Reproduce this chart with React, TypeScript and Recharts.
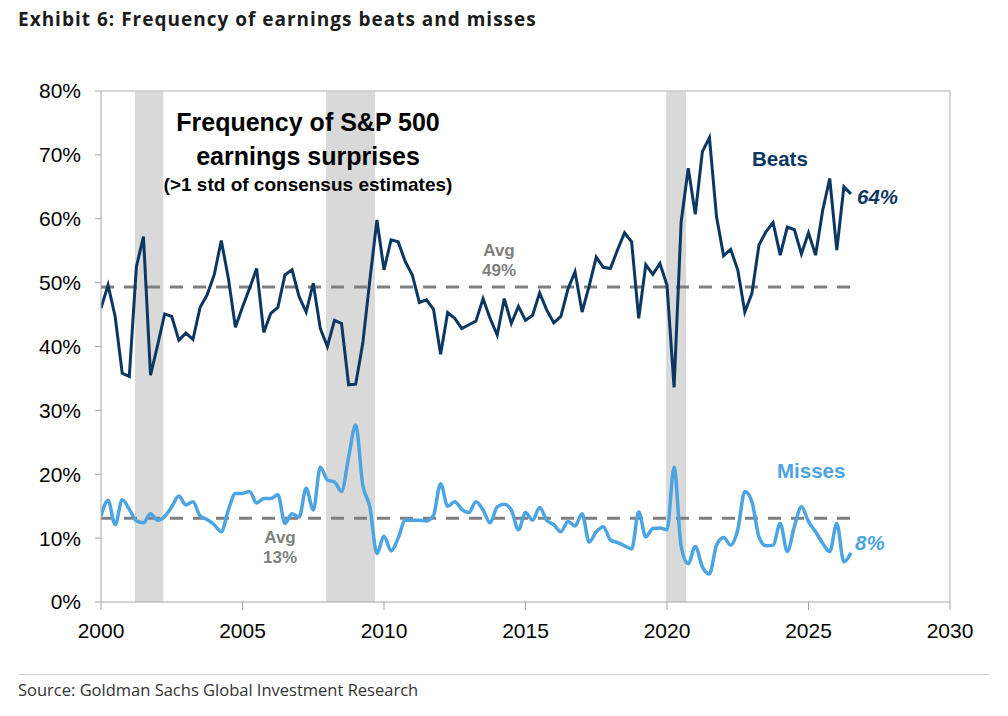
import React from 'react';
import { LineChart, Line, XAxis, YAxis, ReferenceArea, ReferenceLine } from 'recharts';

const startYear = 2000;

// quarterly share of S&P 500 companies beating / missing (>1 std of consensus), %
const beats = [
  46.0, 49.6, 44.7, 35.8, 35.3, 52.5, 57.2, 35.5, 40.2, 45.1,
  44.7, 41.0, 42.1, 41.1, 46.1, 48.1, 51.2, 56.6, 50.7, 43.0,
  46.2, 49.1, 52.2, 42.2, 45.2, 46.1, 51.2, 52.0, 47.8, 45.4,
  49.9, 42.8, 40.0, 44.1, 43.6, 34.0, 34.1, 40.5, 50.4, 59.8,
  52.0, 56.7, 56.4, 53.3, 51.2, 46.9, 47.3, 45.8, 38.8, 45.3,
  44.4, 42.8, 43.4, 44.0, 47.5, 44.4, 41.8, 47.5, 43.6, 46.3,
  44.1, 44.9, 48.4, 45.7, 43.7, 44.7, 49.0, 51.7, 45.4, 49.5,
  54.0, 52.4, 52.2, 55.1, 57.8, 56.4, 44.4, 52.8, 51.3, 53.0,
  49.6, 33.6, 59.5, 67.9, 60.7, 70.5, 72.7, 60.3, 54.2, 55.2,
  52.0, 45.4, 48.3, 55.9, 58.0, 59.4, 54.3, 58.7, 58.3, 54.5,
  57.8, 54.3, 61.3, 66.3, 55.1, 65.0, 63.9,
];

const misses = [
  13.5, 15.9, 12.1, 16.0, 14.5, 12.7, 12.4, 13.8, 12.8, 13.4,
  14.9, 16.6, 15.2, 15.7, 13.5, 12.9, 12.1, 11.0, 14.4, 17.0,
  17.0, 17.3, 15.5, 16.2, 16.2, 16.8, 12.3, 13.8, 13.3, 17.8,
  14.4, 21.1, 19.1, 18.8, 17.3, 22.7, 27.7, 18.3, 14.9, 7.6,
  10.3, 8.0, 10.0, 12.8, 12.8, 12.8, 12.7, 13.6, 18.5, 15.0,
  15.7, 14.5, 14.0, 15.7, 14.4, 12.4, 14.9, 15.3, 14.4, 11.3,
  14.0, 12.8, 14.8, 12.8, 12.1, 11.0, 12.6, 11.9, 13.8, 9.4,
  11.0, 11.8, 9.7, 9.3, 8.8, 8.3, 14.1, 10.2, 11.5, 11.6,
  11.3, 21.1, 8.7, 6.0, 8.7, 5.5, 4.4, 8.9, 10.1, 8.9,
  11.3, 17.3, 15.7, 10.2, 8.8, 8.9, 12.3, 7.9, 11.8, 14.9,
  12.6, 11.0, 9.2, 7.9, 12.3, 6.3, 7.7,
];

const recessions: Array<[number, number]> = [
  [2001.2, 2002.2],
  [2007.95, 2009.68],
  [2019.97, 2020.67],
];

const xTicks = [2000, 2005, 2010, 2015, 2020, 2025, 2030];
const yTicks = [0, 10, 20, 30, 40, 50, 60, 70, 80];

const beatsAvg = 49.3;
const missesAvg = 13.1;
const lastYear = startYear + (beats.length - 1) / 4;

const data = beats.map((b, i) => ({ year: startYear + i / 4, beats: b, misses: misses[i] }));

const NAVY = '#0c3763';
const SKY = '#4da4e2';
const GREY = '#7f7f7f';
const ARIAL = '"Liberation Sans", Arial, sans-serif';
const HUMANIST = '"Open Sans", "Noto Sans", sans-serif';

const abs = (left: number, top: number, extra: React.CSSProperties = {}): React.CSSProperties => ({
  position: 'absolute',
  left,
  top,
  whiteSpace: 'nowrap',
  lineHeight: 1,
  ...extra,
});

const avgStyle: React.CSSProperties = {
  width: 60,
  textAlign: 'center',
  fontFamily: ARIAL,
  fontWeight: 700,
  fontSize: 17,
  color: GREY,
  lineHeight: '20px',
};

export default function App() {
  return (
    <div style={{ position: 'absolute', left: 0, top: 0, width: 1008, height: 716, background: '#fff', overflow: 'hidden' }}>
      <div style={abs(18, 10, { fontFamily: HUMANIST, fontWeight: 700, fontSize: 19, color: '#1b1b1b', letterSpacing: 1 })}>
        Exhibit 6: Frequency of earnings beats and misses
      </div>

      <div style={{ position: 'absolute', left: 0, top: 0 }}>
        <LineChart width={1008} height={716} data={data} margin={{ top: 91, right: 58, bottom: 84, left: 41 }}>
          {recessions.map(([a, b]) => (
            <ReferenceArea key={a} x1={a} x2={b} y1={0} y2={80} fill="#d9d9d9" fillOpacity={1} stroke="none" ifOverflow="visible" />
          ))}
          <XAxis
            dataKey="year"
            type="number"
            domain={[2000, 2030]}
            ticks={xTicks}
            interval={0}
            height={30}
            stroke="#a6a6a6"
            tickSize={8}
            tickMargin={13}
            tick={{ fill: '#000', fontSize: 21, fontFamily: ARIAL }}
            allowDataOverflow
          />
          <YAxis
            type="number"
            domain={[0, 80]}
            ticks={yTicks}
            interval={0}
            width={60}
            stroke="#a6a6a6"
            tickSize={6}
            tickMargin={14}
            tickFormatter={(v: number) => `${v}%`}
            tick={{ fill: '#000', fontSize: 21, fontFamily: ARIAL }}
          />
          <ReferenceLine y={80} stroke="#c8c8c8" strokeWidth={1.5} />
          <ReferenceLine x={2030} stroke="#c8c8c8" strokeWidth={1.5} />
          <ReferenceLine
            segment={[{ x: startYear, y: beatsAvg }, { x: lastYear, y: beatsAvg }]}
            stroke={GREY}
            strokeWidth={3}
            strokeDasharray="13 10"
          />
          <ReferenceLine
            segment={[{ x: startYear, y: missesAvg }, { x: lastYear, y: missesAvg }]}
            stroke={GREY}
            strokeWidth={3}
            strokeDasharray="13 10"
          />
          <Line type="monotone" dataKey="misses" stroke={SKY} strokeWidth={3.5} dot={false} isAnimationActive={false} />
          <Line type="linear" dataKey="beats" stroke={NAVY} strokeWidth={3} dot={false} isAnimationActive={false} />
        </LineChart>
      </div>

      <div style={abs(158, 105, { width: 300, textAlign: 'center', fontFamily: ARIAL, fontWeight: 700, color: '#000' })}>
        <div style={{ fontSize: 25, lineHeight: '34px' }}>Frequency of S&amp;P 500</div>
        <div style={{ fontSize: 25, lineHeight: '34px' }}>earnings surprises</div>
        <div style={{ fontSize: 19, lineHeight: '24px' }}>(&gt;1 std of consensus estimates)</div>
      </div>

      <div style={abs(752, 149, { fontFamily: ARIAL, fontWeight: 700, fontSize: 20.5, color: NAVY })}>Beats</div>
      <div style={abs(857, 187, { fontFamily: ARIAL, fontWeight: 700, fontStyle: 'italic', fontSize: 20.5, color: NAVY })}>64%</div>

      <div style={abs(777, 461, { fontFamily: ARIAL, fontWeight: 700, fontSize: 20.5, color: SKY })}>Misses</div>
      <div style={abs(855, 533, { fontFamily: ARIAL, fontWeight: 700, fontStyle: 'italic', fontSize: 20.5, color: SKY })}>8%</div>

      <div style={abs(469, 241, avgStyle)}>
        Avg<br />49%
      </div>
      <div style={abs(250, 528, avgStyle)}>
        Avg<br />13%
      </div>

      <div style={{ position: 'absolute', left: 18, top: 674, width: 972, height: 1, background: '#d0d0d0' }} />
      <div style={abs(18, 682, { fontFamily: HUMANIST, fontSize: 16.5, color: '#333' })}>
        Source: Goldman Sachs Global Investment Research
      </div>
    </div>
  );
}
